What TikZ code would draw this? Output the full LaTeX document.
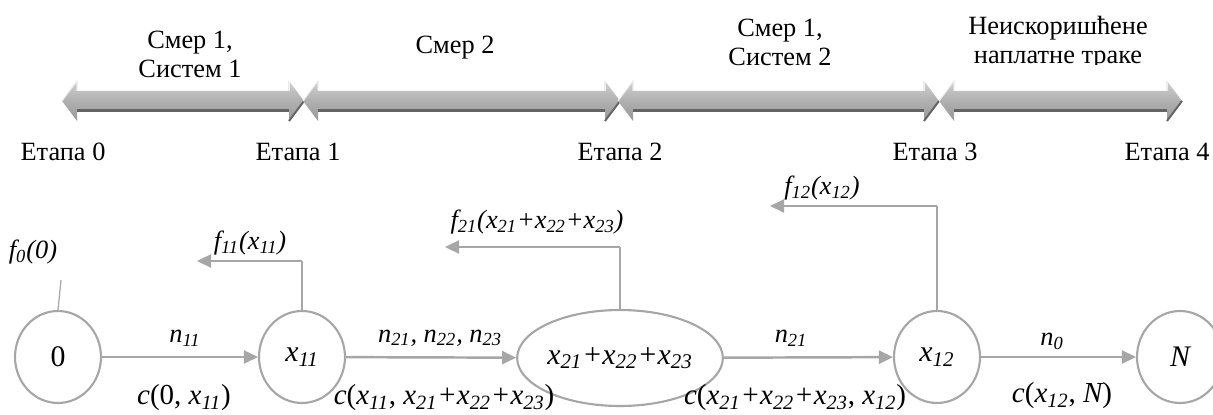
\documentclass[tikz,border=0pt]{standalone}
\usepackage{fontspec}
\setmainfont{Liberation Serif}
\usetikzlibrary{arrows.meta,shapes.geometric}
\definecolor{lgray}{HTML}{A6A6A6}
\definecolor{agray}{HTML}{B0B0B0}
\definecolor{bgray}{HTML}{989898}
\definecolor{dgray}{HTML}{646464}
\newcommand\subx[1]{\textsubscript{#1}}
\newcommand\blockarr[2]{%
  \shade[top color=agray!60!white, bottom color=bgray, middle color=agray]
    (#1,101) -- (#1+15,81) -- (#1+15,91) -- (#2-15,91) -- (#2-15,81) -- (#2,101)
    -- (#2-15,121) -- (#2-15,112) -- (#1+15,112) -- (#1+15,121) -- cycle;
  \draw[dgray, line width=1.7pt] (#1+15,110.5) -- (#2-15,110.5);
  \draw[dgray, line width=1.1pt] (#2-15,121) -- (#2,101);
  \draw[white!85!gray, line width=0.6pt] (#1,101) -- (#1+15,81) -- (#1+15,91);
  \draw[white!85!gray, line width=0.6pt] (#2-15,91) -- (#2-15,81);
}
\tikzset{
  nd/.style={ellipse, draw=lgray, line width=1.2pt, inner sep=0pt,
    minimum width=1.72cm, minimum height=1.84cm, font=\fontsize{17}{20}\selectfont},
  edge/.style={draw=lgray, line width=1.4pt, -{Triangle[length=0.28cm,width=0.26cm]}},
  fbv/.style={draw=lgray, line width=0.7pt},
  fbh/.style={draw=lgray, line width=1.3pt, -{Triangle[length=0.28cm,width=0.26cm]}},
  lbl/.style={font=\fontsize{15}{18}\selectfont, inner sep=0pt},
  clbl/.style={font=\fontsize{16.5}{19}\selectfont, inner sep=0pt},
  stage/.style={font=\fontsize{15}{18}\selectfont, inner sep=0pt},
  toplbl/.style={font=\fontsize{15}{16.5}\selectfont, inner sep=0pt, align=center}
}
\begin{document}
\begin{tikzpicture}[x=0.02cm, y=-0.02cm]
\useasboundingbox (0,0) rectangle (1213,415);

% top block arrows
\blockarr{62}{304}
\blockarr{303}{620}
\blockarr{618}{939}
\blockarr{939}{1182}

% top labels
\node[toplbl] (t1) at (190,54) {Смер 1,\\Систем 1};
\node[toplbl] (t2) at (455,48) {Смер 2};
\node[toplbl] (t3) at (780,42) {Смер 1,\\Систем 2};
\begin{scope}
  \clip (940,0) rectangle (1213,65);
  \node[toplbl] (t4) at (1058,43) {Неискоришћене\\наплатне траке};
\end{scope}

% stage labels
\node[stage] (e0) at (63,152) {Етапа 0};
\node[stage] (e1) at (298,152) {Етапа 1};
\node[stage] (e2) at (620,152) {Етапа 2};
\node[stage] (e3) at (935,152) {Етапа 3};
\node[stage] (e4) at (1167,152) {Етапа 4};

% nodes
\node[nd] (n0) at (58,357) {0};
\node[nd] (nx11) at (302,357) {\itshape x\subx{11}};
\node[nd, minimum width=3.08cm, minimum height=1.92cm] (nx2) at (620,358) {\itshape x\subx{21}+x\subx{22}+x\subx{23}};
\node[nd] (nx12) at (937,357) {\itshape x\subx{12}};
\node[nd] (nN) at (1180,357) {\itshape N};

% edges
\draw[edge] (n0) -- (nx11);
\draw[edge] (nx11) -- (nx2);
\draw[edge] (nx2) -- (nx12);
\draw[edge] (nx12) -- (nN);

% edge labels
\node[lbl] (l1) at (185,338) {\itshape n\subx{11}};
\node[clbl] (c1) at (184,398) {\itshape c\upshape(0, \itshape x\subx{11}\upshape)};
\node[lbl] (l2) at (440,338) {\itshape n\subx{21}, n\subx{22}, n\subx{23}};
\node[clbl] (c2) at (444,398) {\itshape c\upshape(\itshape x\subx{11}\upshape, \itshape x\subx{21}+x\subx{22}+x\subx{23}\upshape)};
\node[lbl] (l3) at (791,338) {\itshape n\subx{21}};
\node[clbl] (c3) at (795,398) {\itshape c\upshape(\itshape x\subx{21}+x\subx{22}+x\subx{23}\upshape, \itshape x\subx{12}\upshape)};
\node[lbl] (l4) at (1052,341) {\itshape n\subx{0}};
\node[clbl] (c4) at (1062,396) {\itshape c\upshape(\itshape x\subx{12}\upshape, \itshape N\upshape)};

% feedback arrows
\coordinate (f0e) at (61,280);
\draw[fbv] (n0.north) -- (f0e);
\node[lbl] (f0) at (33,252) {\itshape f\subx{0}(0)};

\coordinate (f11e) at (197,261);
\draw[fbv] (nx11.north) -- (nx11.north |- f11e);
\draw[fbh] (nx11.north |- f11e) -- (f11e);
\node[lbl] (f11) at (250,243) {\itshape f\subx{11}(x\subx{11})};

\coordinate (f21e) at (445,247);
\draw[fbv] (nx2.north) -- (nx2.north |- f21e);
\draw[fbh] (nx2.north |- f21e) -- (f21e);
\node[lbl] (f21) at (537,222) {\itshape f\subx{21}(x\subx{21}+x\subx{22}+x\subx{23})};

\coordinate (f12e) at (770,206);
\draw[fbv] (nx12.north) -- (nx12.north |- f12e);
\draw[fbh] (nx12.north |- f12e) -- (f12e);
\node[lbl] (f12) at (822,188) {\itshape f\subx{12}(x\subx{12})};
\end{tikzpicture}
\end{document}
